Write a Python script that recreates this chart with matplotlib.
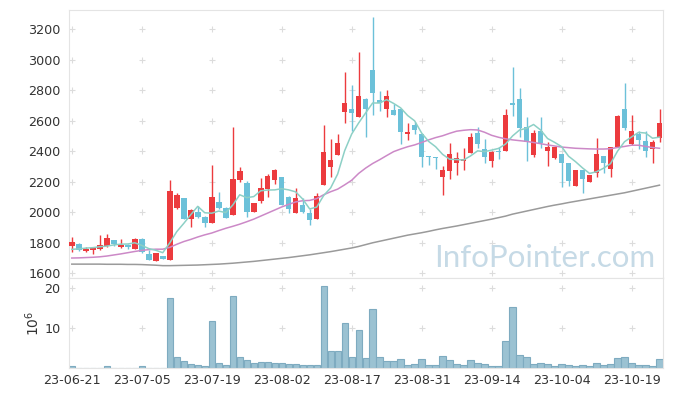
"""Daily candlestick chart with moving averages and volume (Jun-Oct 2023)."""

import matplotlib

matplotlib.use("Agg")
import matplotlib.pyplot as plt
import numpy as np

# trading days, yy-mm-dd
DATES = [
    "23-06-21", "23-06-22", "23-06-23", "23-06-26", "23-06-27", "23-06-28", "23-06-29", "23-06-30",
    "23-07-03", "23-07-04", "23-07-05", "23-07-06", "23-07-07", "23-07-10", "23-07-11", "23-07-12",
    "23-07-13", "23-07-14", "23-07-17", "23-07-18", "23-07-19", "23-07-20", "23-07-21", "23-07-24",
    "23-07-25", "23-07-26", "23-07-27", "23-07-28", "23-07-31",
    "23-08-01", "23-08-02", "23-08-03", "23-08-04", "23-08-07", "23-08-08", "23-08-09", "23-08-10",
    "23-08-11", "23-08-14", "23-08-16", "23-08-17", "23-08-18", "23-08-21", "23-08-22", "23-08-23",
    "23-08-24", "23-08-25", "23-08-28", "23-08-29", "23-08-30", "23-08-31",
    "23-09-01", "23-09-04", "23-09-05", "23-09-06", "23-09-07", "23-09-08", "23-09-11", "23-09-12",
    "23-09-13", "23-09-14", "23-09-15", "23-09-18", "23-09-19", "23-09-20", "23-09-21", "23-09-22",
    "23-09-25", "23-09-26", "23-09-27",
    "23-10-04", "23-10-05", "23-10-06", "23-10-10", "23-10-11", "23-10-12", "23-10-13", "23-10-16",
    "23-10-17", "23-10-18", "23-10-19", "23-10-20", "23-10-23", "23-10-24", "23-10-25",
]

OPEN = [
    1779, 1792, 1748, 1753, 1757, 1779, 1818, 1772, 1786, 1761,
    1823, 1726, 1683, 1716, 1687, 2030, 2092, 1956, 2004, 1967,
    1932, 2068, 2026, 1982, 2212, 2192, 2002, 2076, 2153, 2212,
    2229, 2102, 1998, 2048, 1997, 1956, 2179, 2299, 2376, 2660,
    2677, 2623, 2743, 2933, 2736, 2677, 2671, 2677, 2516, 2572,
    2513, 2369, 2365, 2234, 2273, 2321, 2336, 2387, 2518, 2413,
    2338, 2404, 2404, 2710, 2741, 2557, 2376, 2533, 2404, 2358,
    2382, 2321, 2175, 2277, 2201, 2260, 2369, 2284, 2426, 2675,
    2448, 2513, 2470, 2413, 2485,
]
HIGH = [
    1840, 1796, 1774, 1766, 1849, 1855, 1818, 1825, 1792, 1829,
    1829, 1753, 1731, 1716, 2212, 2124, 2092, 2020, 2041, 1976,
    2310, 2131, 2037, 2562, 2295, 2205, 2063, 2225, 2251, 2282,
    2229, 2107, 2157, 2091, 2019, 2124, 2572, 2478, 2511, 2918,
    2835, 3049, 2747, 3283, 2795, 2802, 2710, 2677, 2583, 2594,
    2513, 2369, 2365, 2303, 2452, 2398, 2424, 2518, 2557, 2478,
    2404, 2426, 2675, 2951, 2813, 2627, 2540, 2627, 2463, 2430,
    2382, 2321, 2277, 2277, 2244, 2485, 2369, 2426, 2638, 2846,
    2638, 2535, 2535, 2474, 2677,
]
LOW = [
    1741, 1748, 1742, 1726, 1753, 1770, 1779, 1768, 1761, 1757,
    1735, 1687, 1683, 1694, 1687, 2022, 1956, 1906, 1960, 1906,
    1932, 2020, 1965, 1982, 2199, 1967, 2002, 2063, 2098, 2183,
    2046, 1993, 1998, 1997, 1917, 1956, 2179, 2233, 2376, 2583,
    2535, 2623, 2492, 2638, 2666, 2627, 2638, 2448, 2474, 2513,
    2299, 2310, 2282, 2113, 2216, 2245, 2277, 2387, 2419, 2321,
    2295, 2347, 2404, 2631, 2491, 2338, 2365, 2419, 2303, 2349,
    2168, 2172, 2175, 2124, 2201, 2229, 2255, 2234, 2426, 2540,
    2441, 2413, 2360, 2321, 2463,
]
CLOSE = [
    1807, 1753, 1761, 1766, 1783, 1829, 1792, 1786, 1772, 1823,
    1742, 1687, 1731, 1694, 2140, 2113, 1956, 2015, 1971, 1932,
    2098, 2026, 1965, 2216, 2271, 2004, 2059, 2157, 2238, 2275,
    2046, 2019, 2092, 2004, 1949, 2107, 2398, 2343, 2457, 2714,
    2653, 2763, 2675, 2780, 2714, 2763, 2638, 2529, 2529, 2540,
    2365, 2360, 2358, 2277, 2380, 2354, 2347, 2492, 2446, 2360,
    2398, 2397, 2638, 2706, 2550, 2463, 2522, 2457, 2426, 2426,
    2325, 2207, 2277, 2220, 2244, 2380, 2325, 2426, 2631, 2555,
    2535, 2474, 2404, 2463, 2588,
]

# moving averages as drawn on the source chart
MA5 = [
    1757, 1760, 1765, 1768, 1774, 1778, 1786, 1791, 1792, 1800,
    1783, 1762, 1751, 1735, 1799, 1873, 1927, 1984, 2039, 1997,
    1994, 2008, 1998, 2047, 2115, 2096, 2103, 2141, 2146, 2147,
    2155, 2147, 2134, 2087, 2022, 2034, 2110, 2160, 2251, 2404,
    2513, 2586, 2652, 2717, 2717, 2739, 2714, 2685, 2635, 2600,
    2520, 2465, 2430, 2380, 2348, 2346, 2343, 2370, 2403, 2398,
    2408, 2419, 2448, 2501, 2540, 2551, 2576, 2540, 2484, 2459,
    2431, 2368, 2332, 2291, 2255, 2266, 2289, 2319, 2401, 2463,
    2494, 2524, 2520, 2486, 2493,
]
MA20 = [
    1700, 1701, 1703, 1705, 1708, 1713, 1720, 1727, 1735, 1743,
    1750, 1755, 1758, 1758, 1770, 1790, 1808, 1822, 1838, 1852,
    1864, 1880, 1895, 1908, 1922, 1938, 1955, 1975, 1995, 2015,
    2035, 2052, 2068, 2076, 2078, 2090, 2115, 2135, 2152, 2180,
    2210, 2255, 2290, 2320, 2345, 2372, 2398, 2415, 2430, 2442,
    2458, 2475, 2490, 2502, 2518, 2532, 2538, 2542, 2540, 2525,
    2505, 2492, 2482, 2475, 2470, 2465, 2458, 2450, 2442, 2435,
    2428, 2424, 2420, 2418, 2416, 2415, 2415, 2417, 2425, 2432,
    2440, 2440, 2432, 2425, 2420,
]
MA120 = [
    1660, 1660, 1660, 1660, 1660, 1659, 1659, 1659, 1658, 1658,
    1657, 1655, 1653, 1650, 1650, 1651, 1652, 1653, 1654, 1656,
    1658, 1660, 1663, 1666, 1670, 1674, 1678, 1683, 1688, 1693,
    1698, 1703, 1709, 1715, 1721, 1728, 1735, 1742, 1750, 1758,
    1766, 1776, 1788, 1800, 1810, 1820, 1830, 1840, 1850, 1858,
    1866, 1875, 1885, 1894, 1902, 1910, 1919, 1928, 1937, 1946,
    1955, 1965, 1975, 1988, 1998, 2008, 2018, 2028, 2038, 2047,
    2055, 2064, 2072, 2080, 2088, 2096, 2104, 2112, 2120, 2128,
    2138, 2148, 2158, 2168, 2178,
]

# volume, millions of shares
VOLUME = [
    0.4, 0.05, 0.05, 0.05, 0.05, 0.4, 0.05, 0.05, 0.05, 0.05,
    0.4, 0.05, 0.05, 0.05, 17.5, 2.7, 1.8, 1.0, 0.8, 0.5,
    11.8, 1.2, 0.8, 18.1, 2.7, 2.1, 1.2, 1.5, 1.5, 1.2,
    1.2, 1.0, 1.0, 0.8, 0.8, 0.8, 20.6, 4.3, 4.3, 11.2,
    2.7, 9.6, 2.5, 14.7, 2.7, 1.7, 1.7, 2.2, 0.8, 1.0,
    2.2, 0.8, 0.8, 3.0, 2.1, 1.0, 0.8, 2.0, 1.2, 1.0,
    0.5, 0.5, 6.7, 15.2, 3.2, 2.7, 1.0, 1.2, 1.0, 0.5,
    1.0, 0.8, 0.5, 0.8, 0.5, 1.2, 0.8, 1.0, 2.5, 2.7,
    1.2, 0.8, 0.8, 0.5, 2.2,
]

PRICE_TICKS = [1600, 1800, 2000, 2200, 2400, 2600, 2800, 3000, 3200]
VOLUME_TICKS = [10, 20]
TICK_EVERY = 10

UP_COLOR = "#ec3b3e"
DOWN_COLOR = "#6cc1d9"
GRID_COLOR = "#dcdcdc"
SPINE_COLOR = "#e4e4e4"
TEXT_COLOR = "#333333"


def plus_grid(ax, xs, ys):
    gx, gy = np.meshgrid(xs, ys)
    ax.plot(gx.ravel(), gy.ravel(), linestyle="none", marker="+",
            markersize=4, markeredgewidth=0.8, color=GRID_COLOR, zorder=0)


def style_axes(ax):
    for spine in ax.spines.values():
        spine.set_color(SPINE_COLOR)
        spine.set_linewidth(0.8)
    ax.tick_params(length=0, colors=TEXT_COLOR, labelsize=9.2, pad=6)


def main():
    x = np.arange(len(DATES))
    o = np.array(OPEN, dtype=float)
    h = np.array(HIGH, dtype=float)
    lo = np.array(LOW, dtype=float)
    c = np.array(CLOSE, dtype=float)
    up = c >= o
    colors = np.where(up, UP_COLOR, DOWN_COLOR)

    fig = plt.figure(figsize=(6.73, 3.96), dpi=100)
    ax = fig.add_axes([69 / 673, 1 - 278 / 396, 594 / 673, 268 / 396])
    axv = fig.add_axes([69 / 673, 1 - 368 / 396, 594 / 673, 90 / 396], sharex=ax)

    xticks = x[::TICK_EVERY]

    # price panel
    plus_grid(ax, xticks, PRICE_TICKS)
    ax.vlines(x, lo, h, colors=colors, linewidth=1.0, zorder=2)
    body = np.maximum(np.abs(c - o), 8)
    ax.bar(x, body, bottom=np.minimum(o, c), width=0.8, color=colors,
           linewidth=0, zorder=3)
    ax.plot(x, MA120, color="#9a9a9a", linewidth=1.1, zorder=4)
    ax.plot(x, MA20, color="#cc89c7", linewidth=1.1, zorder=4)
    ax.plot(x, MA5, color="#8dd0c6", linewidth=1.1, zorder=5)

    ax.text(0.9865, 0.04, "InfoPointer.com", transform=ax.transAxes,
            ha="right", va="baseline", fontsize=22.5, family="Lato",
            color="#c6dae6", zorder=1)

    ax.set_xlim(-0.4, len(DATES) - 0.5)
    ax.set_ylim(1569, 3327)
    ax.set_yticks(PRICE_TICKS)
    ax.tick_params(axis="x", labelbottom=False)
    style_axes(ax)

    # volume panel
    plus_grid(axv, xticks, VOLUME_TICKS)
    axv.bar(x, VOLUME, width=0.9, color="#9bc2d2", edgecolor="#7eabc0",
            linewidth=0.8, zorder=2)
    axv.set_ylim(0, 22.5)
    axv.set_yticks(VOLUME_TICKS)
    axv.set_xticks(xticks)
    axv.set_xticklabels([DATES[i] for i in xticks])
    axv.set_ylabel(r"$10^6$", color=TEXT_COLOR, fontsize=10, labelpad=2)
    style_axes(axv)
    axv.tick_params(axis="x", pad=4)

    fig.savefig("out.png", dpi=100)
    plt.close(fig)


if __name__ == "__main__":
    main()
